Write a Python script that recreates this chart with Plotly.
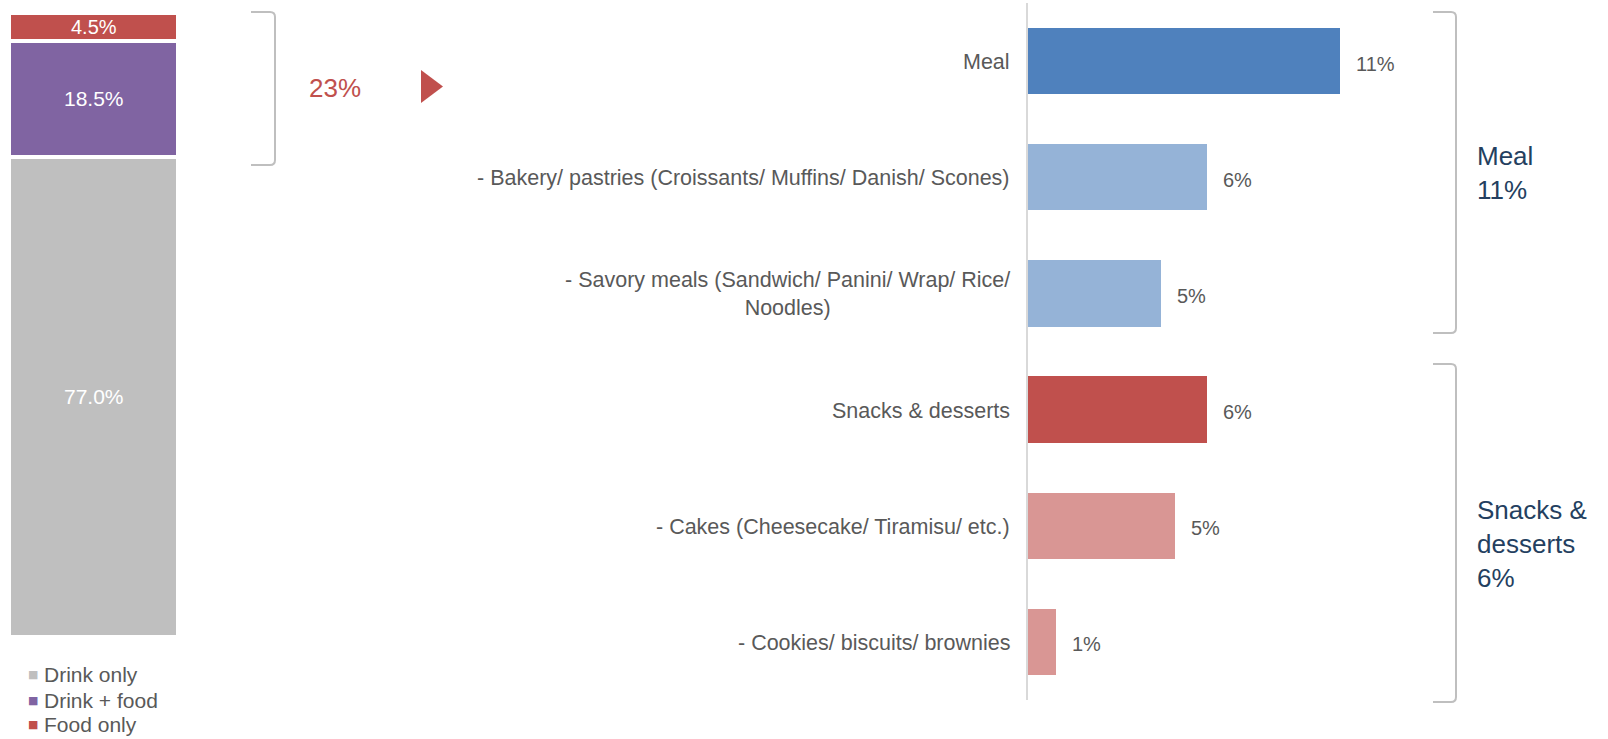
import plotly.graph_objects as go

W, H = 1608, 739

# ---------------- data ----------------
mix_labels = ["Drink only", "Drink + food", "Food only"]
mix_values = [77.0, 18.5, 4.5]
mix_colors = ["#BFBFBF", "#8064A2", "#C0504D"]

item_labels = [
    "Meal",
    "- Bakery/ pastries (Croissants/ Muffins/ Danish/ Scones)",
    "- Savory meals (Sandwich/ Panini/ Wrap/ Rice/<br>Noodles)",
    "Snacks & desserts",
    "- Cakes (Cheesecake/ Tiramisu/ etc.)",
    "- Cookies/ biscuits/ brownies",
]
item_values = [11.0, 6.3, 4.7, 6.3, 5.2, 1.0]
item_colors = ["#4F81BD", "#95B3D7", "#95B3D7", "#C0504D", "#D99694", "#D99694"]

group_names = ["Meal", "Snacks &<br>desserts"]
group_totals = [11, 6]

FONT = "Liberation Sans, Arial, sans-serif"
GRAY = "#595959"
NAVY = "#243F60"
RED = "#C0504D"
BRACKET = "#BFBFBF"


def px(x, y):
    return x / W, 1 - y / H


fig = go.Figure()

# left stacked bar
for lab, val, col in zip(mix_labels, mix_values, mix_colors):
    fig.add_trace(go.Bar(
        x=[0], y=[val], name=lab, width=1,
        marker=dict(color=col, line=dict(color="white", width=4)),
        xaxis="x", yaxis="y", showlegend=False, hoverinfo="skip",
    ))

# right horizontal bars
fig.add_trace(go.Bar(
    x=item_values, y=item_labels, orientation="h", width=0.57,
    marker=dict(color=item_colors, line=dict(width=0)),
    xaxis="x2", yaxis="y2", showlegend=False, hoverinfo="skip",
))

annotations = []
# labels in stacked bar
cum = 0
for i, val in enumerate(mix_values):
    mid = cum + val / 2
    cum += val
    annotations.append(dict(
        x=0, y=mid, xref="x", yref="y", text=f"{val:.1f}%", showarrow=False,
        font=dict(size=21 if val > 10 else 20, color="white", family=FONT),
        xanchor="center", yanchor="middle",
    ))

# legend (top to bottom: Drink only, Drink + food, Food only)
legend_rows = [674.5, 700, 724.5]
for lab, col, yrow in zip(mix_labels, mix_colors, legend_rows):
    sx, sy = px(33, yrow)
    annotations.append(dict(
        x=sx, y=sy, xref="paper", yref="paper", text="■", showarrow=False,
        font=dict(size=11, color=col, family="DejaVu Sans"), xanchor="center", yanchor="middle",
    ))
    tx, ty = px(43, yrow)
    annotations.append(dict(
        x=tx, y=ty, xref="paper", yref="paper", text=lab, showarrow=False,
        font=dict(size=21, color=GRAY, family=FONT), xanchor="left", yanchor="middle",
        borderpad=0,
    ))

# 23% label
x23, y23 = px(335, 88)
annotations.append(dict(
    x=x23, y=y23, xref="paper", yref="paper",
    text=f"{sum(mix_values[1:]):.0f}%", showarrow=False,
    font=dict(size=26, color=RED, family=FONT), xanchor="center", yanchor="middle",
))

# category labels & value labels on right chart
for lab, val in zip(item_labels, item_values):
    annotations.append(dict(
        x=0, y=lab, xref="x2", yref="y2", text=lab, showarrow=False,
        font=dict(size=21.5, color=GRAY, family=FONT),
        xanchor="right", yanchor="middle", align="center", xshift=-16, yshift=-1,
    ))
    annotations.append(dict(
        x=val, y=lab, xref="x2", yref="y2", text=f"{val:.0f}%", showarrow=False,
        font=dict(size=20, color=GRAY, family=FONT),
        xanchor="left", yanchor="middle", xshift=14, yshift=-2.5,
    ))

# group labels
group_centers = [173, 544]
for name, tot, yc in zip(group_names, group_totals, group_centers):
    gx, gy = px(1475, yc)
    annotations.append(dict(
        x=gx, y=gy, xref="paper", yref="paper", text=f"{name}<br>{tot}%",
        showarrow=False, font=dict(size=26, color=NAVY, family=FONT),
        xanchor="left", yanchor="middle", align="left",
    ))


def bracket(x0, x1, y0, y1, r=5):
    pts = [(x0, y0), (x1 - r, y0), (x1, y0), (x1, y0 + r), (x1, y1 - r), (x1, y1), (x1 - r, y1), (x0, y1)]
    p = [px(*q) for q in pts]
    return (f"M {p[0][0]},{p[0][1]} L {p[1][0]},{p[1][1]} Q {p[2][0]},{p[2][1]} {p[3][0]},{p[3][1]} "
            f"L {p[4][0]},{p[4][1]} Q {p[5][0]},{p[5][1]} {p[6][0]},{p[6][1]} L {p[7][0]},{p[7][1]}")


shapes = [
    dict(type="path", path=bracket(251, 275, 12, 165), xref="paper", yref="paper",
         line=dict(color=BRACKET, width=2)),
    dict(type="path", path=bracket(1433, 1456, 12, 333), xref="paper", yref="paper",
         line=dict(color=BRACKET, width=2)),
    dict(type="path", path=bracket(1433, 1456, 364, 702), xref="paper", yref="paper",
         line=dict(color=BRACKET, width=2)),
]
a, b, c = px(421, 70), px(443, 86.5), px(421, 103)
shapes.append(dict(type="path", path=f"M {a[0]},{a[1]} L {b[0]},{b[1]} L {c[0]},{c[1]} Z",
                   xref="paper", yref="paper", fillcolor=RED, line=dict(width=0)))

PXPCT = 28.36
XMAX = 14

fig.update_layout(
    width=W, height=H,
    margin=dict(l=0, r=0, t=0, b=0, autoexpand=False),
    paper_bgcolor="white", plot_bgcolor="white",
    barmode="stack",
    font=dict(family=FONT, color=GRAY),
    xaxis=dict(domain=[9 / W, 178 / W], range=[-0.5, 0.5], visible=False, fixedrange=True),
    yaxis=dict(domain=[1 - 637 / H, 1 - 13 / H], range=[0, 100], visible=False, fixedrange=True),
    xaxis2=dict(domain=[1028 / W, (1028 + XMAX * PXPCT) / W], range=[0, XMAX], visible=False,
                anchor="y2", fixedrange=True),
    yaxis2=dict(domain=[1 - 700 / H, 1 - 3 / H], anchor="x2", type="category",
                categoryorder="array", categoryarray=item_labels, autorange="reversed",
                showticklabels=False, ticks="", showgrid=False, zeroline=False,
                showline=True, linecolor="#D9D9D9", linewidth=1.5, fixedrange=True),
    annotations=annotations,
    shapes=shapes,
    showlegend=False,
)

fig.write_html("out.html")
